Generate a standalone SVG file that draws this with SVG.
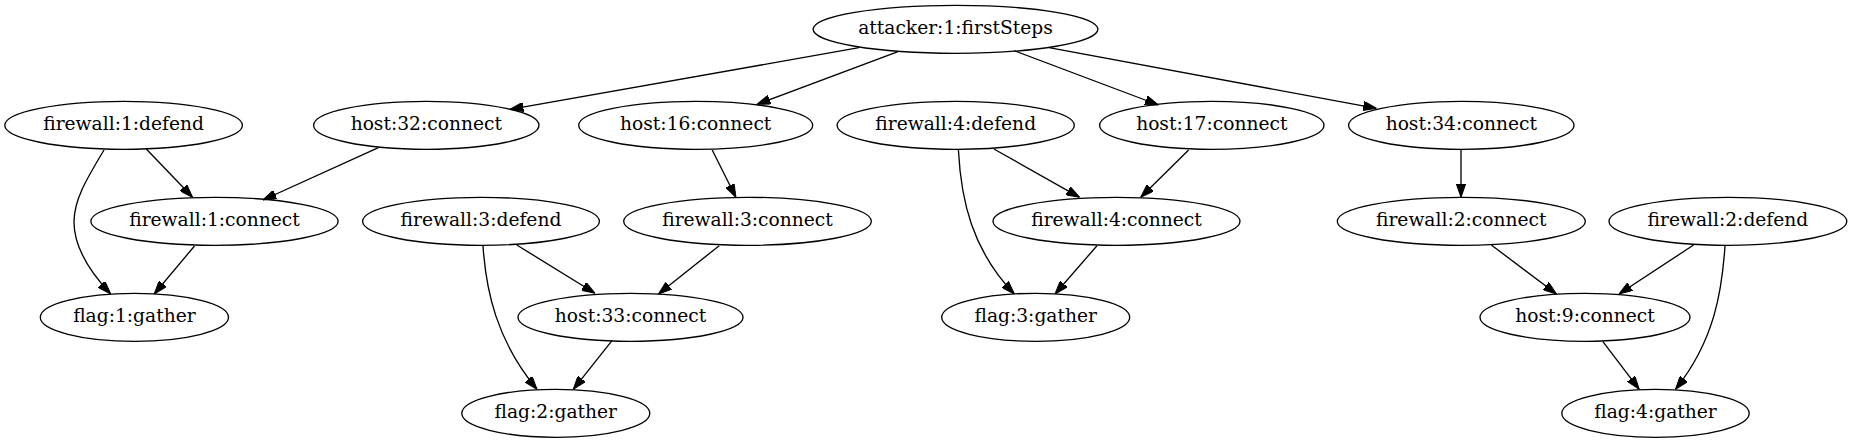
<svg xmlns="http://www.w3.org/2000/svg" width="1852" height="443" viewBox="0 0 1852 443">
<style>
.node ellipse{fill:none;stroke:#000;stroke-width:1.33}
.node text{font-family:"DejaVu Serif","Liberation Serif",serif;font-size:18.67px;fill:#000;text-anchor:middle}
#edges path{fill:none;stroke:#000;stroke-width:1.33;marker-end:url(#arr)}
</style>
<defs>
<marker id="arr" viewBox="0 0 13.33 9.33" refX="13.33" refY="4.67" markerWidth="13.33" markerHeight="9.33" markerUnits="userSpaceOnUse" orient="auto">
<polygon points="0,0 13.33,4.67 0,9.33" fill="#000" stroke="#000" stroke-width="1"/>
</marker>
</defs>
<rect width="1852" height="443" fill="#fff"/>
<g id="edges">
<path d="M859,47.7 L510,109.3"/>
<path d="M898,51.7 L757,104.3"/>
<path d="M1014.3,50.7 L1158.4,105"/>
<path d="M1049,47.7 L1376.4,108.3"/>
<path d="M146.3,149 L192.6,197.3"/>
<path d="M104,150 C86,180 74,200 74,222 C74,248 90,272 110.7,294"/>
<path d="M378.4,147.7 L263,200"/>
<path d="M194.5,246 L154.2,294"/>
<path d="M516.8,245 L595,293.3"/>
<path d="M483,246 C486,290 496,340 537,389.3"/>
<path d="M612,340.7 L573.3,389.3"/>
<path d="M712.2,150 L735.9,197.3"/>
<path d="M719.2,245.7 L658.4,294"/>
<path d="M993.9,149 L1079.6,197.3"/>
<path d="M958.4,150 C961,200 972,250 1014.3,294"/>
<path d="M1188.6,150 L1140.8,197.3"/>
<path d="M1097,245.7 L1055,294"/>
<path d="M1461,150 L1461,197.3"/>
<path d="M1491.3,245 L1556.5,294"/>
<path d="M1693.6,245 L1619,294"/>
<path d="M1725,246 C1722,290 1715,340 1675.5,389.3"/>
<path d="M1602.9,341.7 L1639.2,389.3"/>
</g>
<g id="attacker_1_firstSteps" class="node"><ellipse cx="955.5" cy="29.3" rx="142.4" ry="24"/><text x="955.5" y="33.5">attacker:1:firstSteps</text></g>
<g id="firewall_1_defend" class="node"><ellipse cx="123.6" cy="125.3" rx="118.8" ry="24"/><text x="123.6" y="129.5">firewall:1:defend</text></g>
<g id="host_32_connect" class="node"><ellipse cx="426.3" cy="125.3" rx="112.7" ry="24"/><text x="426.3" y="129.5">host:32:connect</text></g>
<g id="host_16_connect" class="node"><ellipse cx="695.7" cy="125.3" rx="117" ry="24"/><text x="695.7" y="129.5">host:16:connect</text></g>
<g id="firewall_4_defend" class="node"><ellipse cx="955.7" cy="125.3" rx="118.6" ry="24"/><text x="955.7" y="129.5">firewall:4:defend</text></g>
<g id="host_17_connect" class="node"><ellipse cx="1211.8" cy="125.3" rx="112.2" ry="24"/><text x="1211.8" y="129.5">host:17:connect</text></g>
<g id="host_34_connect" class="node"><ellipse cx="1461.3" cy="125.3" rx="112.7" ry="24"/><text x="1461.3" y="129.5">host:34:connect</text></g>
<g id="firewall_1_connect" class="node"><ellipse cx="214.5" cy="221.3" rx="123.6" ry="24"/><text x="214.5" y="225.5">firewall:1:connect</text></g>
<g id="firewall_3_defend" class="node"><ellipse cx="481" cy="221.3" rx="118.4" ry="24"/><text x="481" y="225.5">firewall:3:defend</text></g>
<g id="firewall_3_connect" class="node"><ellipse cx="747.5" cy="221.3" rx="123.8" ry="24"/><text x="747.5" y="225.5">firewall:3:connect</text></g>
<g id="firewall_4_connect" class="node"><ellipse cx="1116.5" cy="221.3" rx="123.5" ry="24"/><text x="1116.5" y="225.5">firewall:4:connect</text></g>
<g id="firewall_2_connect" class="node"><ellipse cx="1461.3" cy="221.3" rx="124" ry="24"/><text x="1461.3" y="225.5">firewall:2:connect</text></g>
<g id="firewall_2_defend" class="node"><ellipse cx="1727.9" cy="221.3" rx="118.9" ry="24"/><text x="1727.9" y="225.5">firewall:2:defend</text></g>
<g id="flag_1_gather" class="node"><ellipse cx="134.4" cy="317.3" rx="94.1" ry="24"/><text x="134.4" y="321.5">flag:1:gather</text></g>
<g id="host_33_connect" class="node"><ellipse cx="630.5" cy="317.3" rx="112.5" ry="24"/><text x="630.5" y="321.5">host:33:connect</text></g>
<g id="flag_3_gather" class="node"><ellipse cx="1035.7" cy="317.3" rx="94" ry="24"/><text x="1035.7" y="321.5">flag:3:gather</text></g>
<g id="host_9_connect" class="node"><ellipse cx="1585" cy="317.3" rx="105" ry="24"/><text x="1585" y="321.5">host:9:connect</text></g>
<g id="flag_2_gather" class="node"><ellipse cx="555.8" cy="413.3" rx="94" ry="24"/><text x="555.8" y="417.5">flag:2:gather</text></g>
<g id="flag_4_gather" class="node"><ellipse cx="1655.5" cy="413.3" rx="93.7" ry="24"/><text x="1655.5" y="417.5">flag:4:gather</text></g>
</svg>
